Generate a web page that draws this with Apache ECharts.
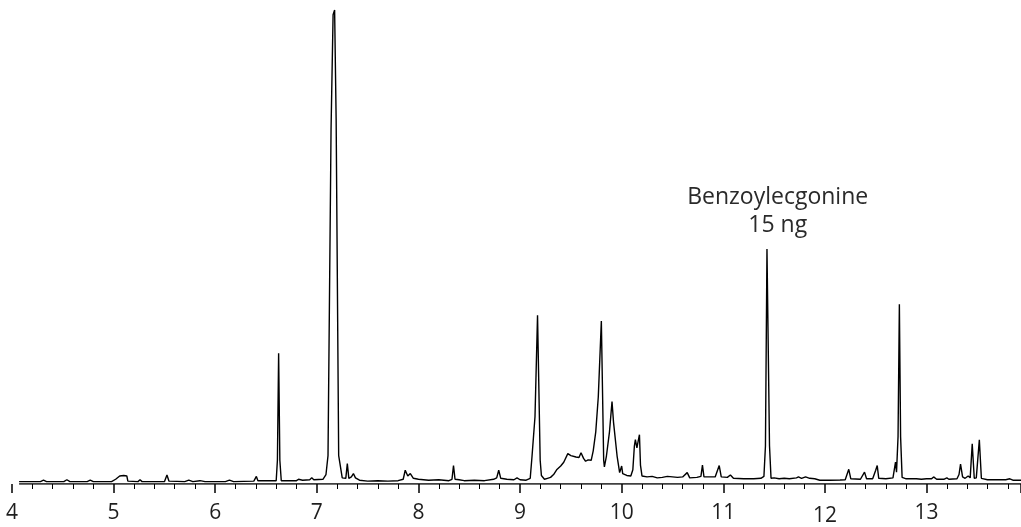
<!DOCTYPE html>
<html>
<head>
<meta charset="utf-8">
<script src="https://cdn.jsdelivr.net/npm/echarts@6/dist/echarts.min.js"></script>
<style>
html,body{margin:0;padding:0;background:#fff;}
#chart{width:1021px;height:527px;}
</style>
</head>
<body>
<div id="chart"></div>
<script>
// Retention time (min)
const times = [
4.07,4.28,4.31,4.34,4.51,4.54,4.57,4.74,4.77,4.80,4.98,5.02,5.06,5.10,5.13,5.14,5.24,5.26,5.28,5.50,
5.525,5.545,5.70,5.74,5.78,5.85,5.90,6.10,6.14,6.18,6.38,6.405,6.42,6.60,6.612,6.624,6.636,6.65,6.80,6.82,
6.86,6.93,6.95,6.97,7.06,7.09,7.11,7.14,7.16,7.175,7.19,7.215,7.25,7.285,7.30,7.315,7.34,7.36,7.38,7.42,
7.50,7.60,7.70,7.80,7.85,7.87,7.895,7.92,7.95,8.00,8.10,8.20,8.30,8.33,8.345,8.36,8.40,8.45,8.55,8.65,
8.74,8.77,8.79,8.81,8.87,8.94,8.97,9.00,9.06,9.10,9.118,9.147,9.172,9.18,9.198,9.21,9.24,9.27,9.30,9.33,
9.36,9.40,9.43,9.47,9.50,9.55,9.58,9.60,9.625,9.645,9.67,9.70,9.712,9.72,9.745,9.77,9.80,9.81,9.823,9.83,
9.85,9.88,9.905,9.92,9.932,9.955,9.98,10.0,10.01,10.05,10.09,10.11,10.125,10.135,10.15,10.162,10.175,10.185,10.20,10.25,
10.30,10.35,10.40,10.45,10.50,10.55,10.60,10.645,10.67,10.74,10.78,10.795,10.81,10.87,10.92,10.96,10.98,11.04,11.07,11.10,
11.20,11.30,11.37,11.40,11.415,11.43,11.44,11.455,11.47,11.50,11.55,11.60,11.65,11.72,11.74,11.77,11.81,11.85,11.90,11.95,
12.05,12.15,12.20,12.235,12.255,12.35,12.39,12.41,12.47,12.50,12.515,12.53,12.60,12.67,12.695,12.705,12.72,12.733,12.745,12.76,
12.80,12.90,12.95,13.00,13.05,13.07,13.10,13.17,13.20,13.22,13.30,13.32,13.335,13.355,13.38,13.41,13.43,13.45,13.47,13.49,
13.52,13.54,13.60,13.70,13.78,13.82,13.85,13.93
];
// Relative abundance (% of largest peak)
const abundance = [
0.5,0.5,0.8,0.5,0.5,0.9,0.5,0.5,0.8,0.5,0.5,1.0,1.7,1.8,1.7,0.6,0.5,0.9,0.5,0.5,
1.9,0.6,0.5,0.8,0.5,0.7,0.5,0.5,0.8,0.5,0.6,1.6,0.7,0.7,5,27.6,5,0.7,0.7,1.0,
0.8,0.9,1.3,0.9,1.0,2.0,6,75,99,100,77,6,1.3,1.2,4.3,1.2,1.5,2.2,1.3,0.8,
0.6,0.7,0.6,0.7,1.0,2.9,1.7,2.2,1.2,1.0,0.8,0.9,0.7,1.0,3.9,1.0,0.9,0.7,0.8,0.7,
1.0,1.3,2.9,1.2,1.0,0.9,1.3,0.9,0.8,1.2,5.9,14.2,35.6,35.6,5,1.8,1.0,1.2,1.4,2.0,
3.0,3.8,4.6,6.4,6.0,5.7,5.6,6.6,5.4,4.8,5.1,5.0,5.4,7,11,18.4,34.4,34,5,3.6,
5.9,11,17.4,13,12.6,5.9,2.4,3.8,2.2,1.8,1.7,3.0,8.0,9.35,7.6,9.0,10.4,4.0,1.7,1.5,
1.6,1.3,1.4,1.6,1.5,1.4,1.5,2.4,1.3,1.4,1.6,4.0,1.5,1.5,1.5,3.9,1.5,1.4,1.9,1.2,
1.1,1.1,1.2,1.6,8,49.6,49.6,8,1.2,1.3,1.1,1.2,1.1,1.3,1.5,1.2,1.5,1.2,1.1,0.8,
0.8,0.85,0.9,3.1,1.1,1.0,2.5,1.1,1.1,2.9,3.9,1.2,1.1,1.3,4.6,2.5,10,37.9,10,1.4,
1.1,1.1,1.0,1.1,1.1,1.5,1.0,1.0,1.3,1.0,1.1,2.0,4.2,1.5,1.2,1.7,1.3,8.5,1.2,1.3,
9.35,1.2,0.9,0.9,0.9,1.1,0.8,0.8
];
const axisStart = 4.07;
const axisEnd = 13.93;
const annotationTime = 11.437;
const annotationValue = 49.6;
const annotationText = 'Benzoylecgonine\n15 ng';

const trace = times.map((t, i) => [t, abundance[i]]);

const chart = echarts.init(document.getElementById('chart'), null, {renderer: 'canvas'});
const FONT = '"Open Sans", "Noto Sans", sans-serif';
chart.setOption({
  animation: false,
  backgroundColor: '#ffffff',
  grid: {left: 12, right: 0, top: 10, bottom: 39, containLabel: false},
  xAxis: {
    type: 'value',
    min: 4,
    max: 13.93,
    interval: 1,
    axisLine: {show: false},
    axisTick: {show: true, length: 9, lineStyle: {color: '#000', width: 1.5}},
    minorTick: {show: true, splitNumber: 5, length: 5, lineStyle: {color: '#000', width: 1}},
    splitLine: {show: false},
    axisLabel: {
      margin: 19,
      fontSize: 21,
      fontFamily: FONT,
      color: '#1e1e1e',
      showMaxLabel: false,
      formatter: function (v) { return v === 12 ? '{low|12}' : String(v); },
      rich: {low: {fontSize: 21, fontFamily: FONT, color: '#1e1e1e', padding: [3, 0, 0, 0]}}
    }
  },
  yAxis: {
    type: 'value', min: 0, max: 100, show: false
  },
  series: [
    {
      type: 'line',
      data: [[axisStart, 0], [axisEnd, 0]],
      symbol: 'none',
      lineStyle: {color: '#000', width: 1.5},
      silent: true,
      z: 3
    },
    {
      type: 'line',
      data: trace,
      symbol: 'none',
      lineStyle: {color: '#000', width: 1.4},
      silent: true,
      z: 4,
      markPoint: {
        symbol: 'circle',
        symbolSize: 0,
        data: [{coord: [annotationTime, annotationValue], value: annotationText}],
        label: {
          show: true,
          position: 'top',
          distance: 9,
          offset: [10, 0],
          formatter: annotationText,
          fontSize: 23,
          lineHeight: 28,
          fontFamily: FONT,
          color: '#2a2a2a',
          align: 'center'
        }
      }
    }
  ]
});
</script>
</body>
</html>
